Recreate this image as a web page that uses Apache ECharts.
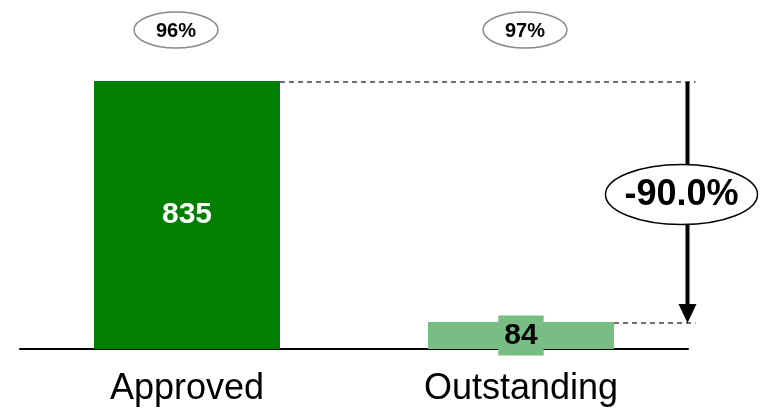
<!DOCTYPE html>
<html><head><meta charset="utf-8">
<script src="https://cdn.jsdelivr.net/npm/echarts@6/dist/echarts.min.js"></script>
<style>html,body{margin:0;padding:0;background:#fff}#c{width:767px;height:412px}</style>
</head><body><div id="c"></div>
<script>
const categories = ['Approved', 'Outstanding'];
const values = [835, 84];
const shareLabels = ['96%', '97%'];
const changeLabel = '-90.0%';
const barColors = ['#007F00', '#78BE84'];
const labelColors = ['#ffffff', '#000000'];

const chart = echarts.init(document.getElementById('c'), null, {renderer: 'canvas'});
const FONT = 'Liberation Sans, Arial, sans-serif';

chart.setOption({
  animation: false,
  grid: {left: 20, right: 79, top: 28, bottom: 63},
  xAxis: {
    type: 'category', data: categories,
    axisLine: {lineStyle: {color: '#000', width: 2}},
    axisTick: {show: false},
    axisLabel: {fontSize: 36, color: '#000', margin: 22, fontFamily: FONT}
  },
  yAxis: {type: 'value', min: 0, max: 1000, show: false},
  series: [{
    type: 'bar', barWidth: '55.7%',
    data: values.map((v, i) => ({
      value: v,
      itemStyle: {color: barColors[i]},
      label: {
        show: true, position: 'inside', color: labelColors[i],
        fontSize: 30, fontWeight: 'bold', fontFamily: FONT,
        backgroundColor: i === 1 ? barColors[1] : 'transparent',
        padding: i === 1 ? [5, 6, 4, 6] : 0, lineHeight: 31
      }
    }))
  }]
});

const p0 = chart.convertToPixel({xAxisIndex: 0, yAxisIndex: 0}, [0, values[0]]);
const p1 = chart.convertToPixel({xAxisIndex: 0, yAxisIndex: 0}, [1, values[1]]);
const band = p1[0] - p0[0];
const halfBar = band * 0.557 / 2;
const arrowX = p1[0] + band / 2 - 0.5;
const dashEnd = arrowX + 8;
const topOffsets = [-11, 4];

const g = [];
[p0, p1].forEach((p, i) => {
  g.push({type: 'ellipse', shape: {cx: p[0] + topOffsets[i], cy: 30, rx: 42, ry: 18},
    style: {fill: '#fff', stroke: '#8a8a8a', lineWidth: 1.5}, z: 10});
  g.push({type: 'text', x: p[0] + topOffsets[i], y: 31,
    style: {text: shareLabels[i], font: 'bold 20px ' + FONT, fill: '#000', align: 'center', verticalAlign: 'middle'}, z: 11});
});
g.push({type: 'line', shape: {x1: p0[0] + halfBar, y1: p0[1] + 1, x2: dashEnd, y2: p0[1] + 1},
  style: {stroke: '#404040', lineWidth: 1.5, lineDash: [5, 4]}, z: 5});
g.push({type: 'line', shape: {x1: p1[0] + halfBar, y1: p1[1] + 1, x2: dashEnd, y2: p1[1] + 1},
  style: {stroke: '#404040', lineWidth: 1.5, lineDash: [5, 4]}, z: 5});
g.push({type: 'line', shape: {x1: arrowX, y1: p0[1] + 1, x2: arrowX, y2: p1[1] - 16},
  style: {stroke: '#000', lineWidth: 4}, z: 6});
g.push({type: 'polygon', shape: {points: [[arrowX - 9, p1[1] - 18], [arrowX + 9, p1[1] - 18], [arrowX, p1[1] + 1]]},
  style: {fill: '#000'}, z: 6});
const midY = (p0[1] + p1[1]) / 2 - 7;
g.push({type: 'ellipse', shape: {cx: arrowX - 6, cy: midY, rx: 76, ry: 30},
  style: {fill: '#fff', stroke: '#000', lineWidth: 1.5}, z: 12});
g.push({type: 'text', x: arrowX - 6, y: midY + 1,
  style: {text: changeLabel, font: 'bold 36px ' + FONT, fill: '#000', align: 'center', verticalAlign: 'middle'}, z: 13});

chart.setOption({graphic: g});
</script></body></html>
